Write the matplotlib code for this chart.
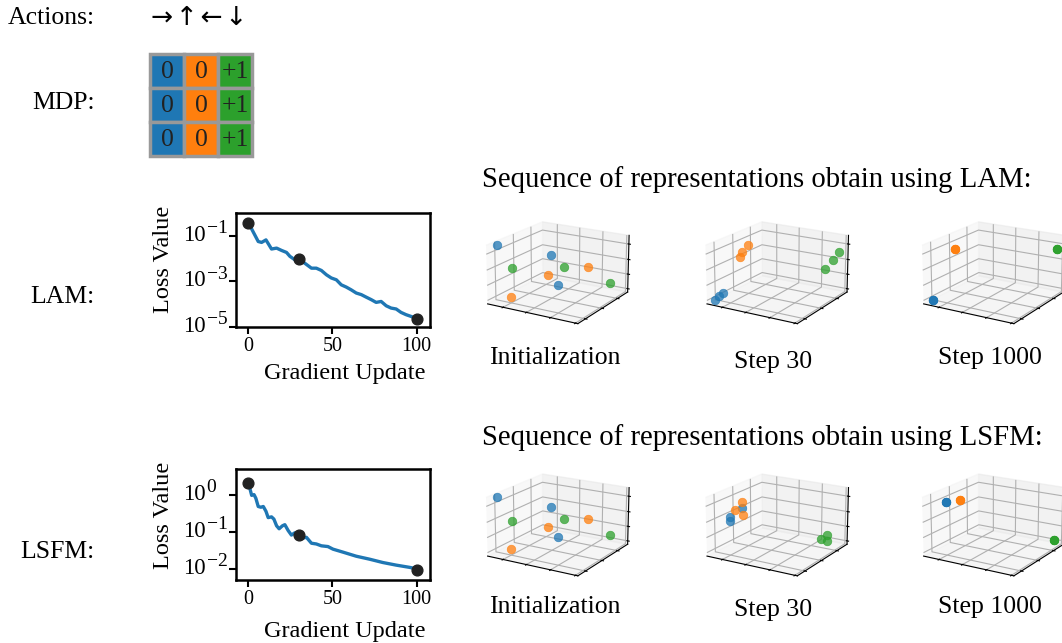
import matplotlib
matplotlib.use("Agg")
import matplotlib.pyplot as plt
import numpy as np
from matplotlib.patches import Rectangle

plt.rcParams['font.family'] = ['Liberation Serif', 'DejaVu Serif']

# ---------------- data ----------------
mdp_rewards = [["0", "0", "+1"], ["0", "0", "+1"], ["0", "0", "+1"]]
col_colors = ['#1f77b4', '#ff7f0e', '#2ca02c']

lam_x = [0, 5.9, 7.9, 10.5, 13.8, 16.8, 19.7, 22.7, 24.7, 27.6, 30.6, 33.5, 37.5, 40.4,
         43.4, 46.4, 49.3, 52.3, 55.2, 58.2, 61.1, 64.1, 67.1, 70, 73, 75.9, 78.9, 81.9,
         84.8, 87.8, 90.7, 93.7, 97.6, 100]
lam_logy = [-0.42, -1.25, -1.29, -1.18, -1.58, -1.54, -1.64, -1.73, -1.9, -2.05, -2.02,
            -2.2, -2.42, -2.42, -2.52, -2.71, -2.85, -2.93, -3.15, -3.25, -3.37, -3.51,
            -3.58, -3.69, -3.8, -3.92, -3.88, -4.07, -4.17, -4.21, -4.36, -4.46, -4.56, -4.65]
lam_dots_x = [0, 30, 100]
lam_dots_y = [0.38, 0.0095, 2.2e-5]

lsfm_x = [0, 1, 2, 3.4, 4.5, 5.9, 7.5, 8.9, 10.5, 11.8, 13.8, 15.2, 16.8, 18.3, 20.3, 21.7,
          23.7, 25.6, 27.6, 29.6, 31.6, 34.5, 37.5, 40.4, 43.4, 47.3, 50.3, 56.2, 64.1, 72,
          79.9, 87.8, 95.7, 100]
lsfm_logy = [0.33, 0.155, -0.02, 0.0, -0.1, -0.32, -0.34, -0.32, -0.45, -0.62, -0.6, -0.66,
             -0.84, -0.92, -0.84, -0.81, -0.97, -1.09, -1.03, -1.09, -1.18, -1.15, -1.31,
             -1.33, -1.38, -1.4, -1.47, -1.55, -1.66, -1.74, -1.83, -1.9, -1.96, -2.0]
lsfm_dots_x = [0, 30, 100]
lsfm_dots_y = [2.1, 0.08, 0.0095]

init_blue = [[0.055, 0.1, 0.98], [0.41, 0.5, 0.73], [0.55, 0.4, 0.29]]
init_orange = [[0.21, 0.1, 0.13], [0.44, 0.4, 0.44], [0.65, 0.8, 0.44]]
init_green = [[0.16, 0.2, 0.56], [0.44, 0.7, 0.43], [0.9, 0.8, 0.23]]

lam30_blue = [[0.065, 0.05, 0.068], [0.11, 0.05, 0.14], [0.156, 0.05, 0.21]]
lam30_orange = [[0.185, 0.3, 0.72], [0.21, 0.3, 0.81], [0.28, 0.3, 0.95]]
lam30_green = [[0.8, 0.9, 0.40], [0.89, 0.9, 0.59], [0.95, 0.9, 0.74]]

lam1000_blue = [[0.08, 0.05, 0.07]] * 3
lam1000_orange = [[0.24, 0.2, 0.92]] * 3
lam1000_green = [[0.96, 0.9, 0.79]] * 3

lsfm30_blue = [[0.071, 0.3, 0.55], [0.071, 0.3, 0.485], [0.21, 0.3, 0.75]]
lsfm30_orange = [[0.128, 0.3, 0.69], [0.21, 0.3, 0.85], [0.223, 0.3, 0.63]]
lsfm30_green = [[0.76, 0.9, 0.07], [0.83, 0.9, 0.17], [0.83, 0.9, 0.06]]

lsfm1000_blue = [[0.14, 0.2, 0.88]] * 3
lsfm1000_orange = [[0.29, 0.2, 0.95]] * 3
lsfm1000_green = [[0.94, 0.9, 0.10]] * 3

panel_titles = ["Initialization", "Step 30", "Step 1000"]

W, H = 1062, 643
fig = plt.figure(figsize=(W / 100, H / 100), dpi=100)


def fx(px):
    return px / W


def fy(py):
    return 1 - py / H


TXT = 18.5
fig.text(fx(95), fy(18), "Actions:", ha='right', va='center', fontsize=TXT)
fig.text(fx(151), fy(18), "\u2192\u200a\u2191\u200a\u2190\u200a\u2193", ha='left',
         va='center', fontsize=19, family=['DejaVu Sans'])
fig.text(fx(95), fy(103), "MDP:", ha='right', va='center', fontsize=TXT)
fig.text(fx(95), fy(297), "LAM:", ha='right', va='center', fontsize=TXT)
fig.text(fx(95), fy(552), "LSFM:", ha='right', va='center', fontsize=TXT)

axg = fig.add_axes([fx(150), fy(156), fx(252) - fx(150), fy(54) - fy(156)])
axg.set_xlim(0, 3)
axg.set_ylim(3, 0)
axg.axis('off')
for r in range(3):
    for c in range(3):
        axg.add_patch(Rectangle((c, r), 1, 1, facecolor=col_colors[c], edgecolor='#999999',
                                lw=2.5, clip_on=False))
        axg.text(c + 0.5, r + 0.52, mdp_rewards[r][c], ha='center', va='center',
                 fontsize=TXT, color='#222222')


def loss_axes(rect, xs, logys, dx, dy, ylim, yticks, yexps, ylab_y, xlab_y):
    ax = fig.add_axes(rect)
    ax.plot(xs, np.power(10.0, logys), color='#1f77b4', lw=2.4, zorder=2)
    ax.scatter(dx, dy, s=60, color='#222222', zorder=3)
    ax.set_yscale('log')
    ax.set_xlim(-7.3, 107.9)
    ax.set_ylim(*ylim)
    ax.set_yticks(yticks)
    ax.set_yticklabels([])
    ax.minorticks_off()
    ax.set_xticks([0, 50, 100])
    ax.tick_params(labelsize=14.5, width=1.5, length=5, direction='out', pad=2)
    for v, e in zip(yticks, yexps):
        ax.annotate("10", xy=(0, v), xycoords=('axes fraction', 'data'),
                    xytext=(-30 * 0.72, 0.5 * 0.72), textcoords='offset points',
                    ha='right', va='center', fontsize=16.5)
        ax.annotate(e, xy=(0, v), xycoords=('axes fraction', 'data'),
                    xytext=(-29.3 * 0.72, 7 * 0.72), textcoords='offset points',
                    ha='left', va='center', fontsize=14)
    for s in ax.spines.values():
        s.set_linewidth(1.8)
    ax.set_xlabel("Gradient Update", fontsize=17.5, va='center')
    ax.xaxis.set_label_coords(0.56, xlab_y)
    ax.set_ylabel("Loss Value", fontsize=17.5, va='center')
    ax.yaxis.set_label_coords(-0.376, ylab_y)
    return ax


loss_axes([fx(236), fy(327), fx(430) - fx(236), fy(213) - fy(327)], lam_x, lam_logy,
          lam_dots_x, lam_dots_y, (1e-5, 1.0), [1e-1, 1e-3, 1e-5],
          ['\u22121', '\u22123', '\u22125'], 0.59, -0.41)
loss_axes([fx(236), fy(580), fx(430) - fx(236), fy(469) - fy(580)], lsfm_x, lsfm_logy,
          lsfm_dots_x, lsfm_dots_y, (0.005, 4.9), [1e0, 1e-1, 1e-2],
          ['0', '\u22121', '\u22122'], 0.585, -0.46)

fig.text(fx(482), fy(180), "Sequence of representations obtain using LAM:", ha='left',
         va='center', fontsize=20.7)
fig.text(fx(482), fy(438), "Sequence of representations obtain using LSFM:", ha='left',
         va='center', fontsize=20.7)


def scatter3d(cx, cy, groups):
    aw, ah = 200, 160
    ax = fig.add_axes([fx(cx - aw / 2), fy(cy + ah / 2), aw / W, ah / H], projection='3d')
    ax.view_init(elev=18, azim=-59)
    ax.set_box_aspect((4, 4, 2.35), zoom=0.958)
    for pts, col in zip(groups, col_colors):
        p = np.array(pts)
        ax.scatter(p[:, 0], p[:, 1], p[:, 2], s=38, color=col, alpha=0.75,
                   depthshade=False, edgecolors=col, linewidths=0.5)
    ax.set_xlim(0, 1)
    ax.set_ylim(0, 1)
    ax.set_zlim(0, 1)
    ax.set_xticks([0.18, 0.445, 0.71, 0.975])
    ax.set_yticks([0.14, 0.46, 0.78])
    ax.set_zticks([0.06, 0.32, 0.58, 0.85])
    ax.set_xticklabels([])
    ax.set_yticklabels([])
    ax.set_zticklabels([])
    return ax


col_cx = [556.8, 776.2, 992.8]
row_cy = [271.5, 523.7]
scatter3d(col_cx[0], row_cy[0], [init_blue, init_orange, init_green])
scatter3d(col_cx[1], row_cy[0], [lam30_blue, lam30_orange, lam30_green])
scatter3d(col_cx[2], row_cy[0], [lam1000_blue, lam1000_orange, lam1000_green])
scatter3d(col_cx[0], row_cy[1], [init_blue, init_orange, init_green])
scatter3d(col_cx[1], row_cy[1], [lsfm30_blue, lsfm30_orange, lsfm30_green])
scatter3d(col_cx[2], row_cy[1], [lsfm1000_blue, lsfm1000_orange, lsfm1000_green])

title_pos = [(555, 358, 607), (773, 362, 610), (990, 358, 607)]
for t, (x, y1, y2) in zip(panel_titles, title_pos):
    fig.text(fx(x), fy(y1), t, ha='center', va='center', fontsize=TXT)
    fig.text(fx(x), fy(y2), t, ha='center', va='center', fontsize=TXT)

fig.savefig("out.png", dpi=100)
